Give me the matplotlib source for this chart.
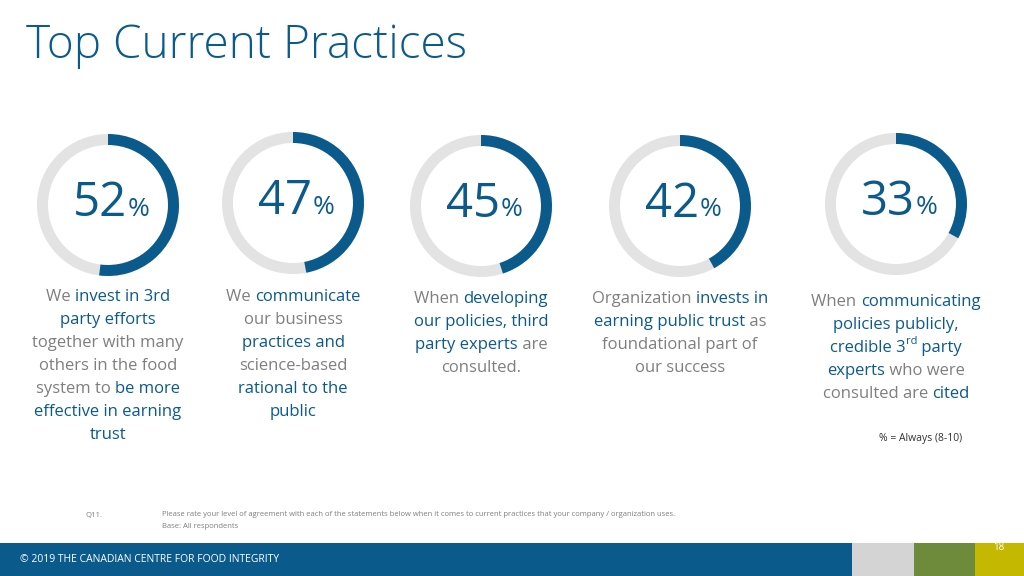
import matplotlib
matplotlib.use("Agg")
import matplotlib.pyplot as plt
from matplotlib.patches import Wedge, Rectangle

values = [52, 47, 45, 42, 33]
centers_x = [108, 293, 481, 680, 896]
centers_y = [205, 203, 206, 206, 204]
BLUE = "#0b5a8c"
GREY = "#7f7f7f"
B, G, S = "b", "g", "s"
descriptions = [
    [[("We ", G), ("invest in 3rd", B)], [("party efforts", B)], [("together with many", G)],
     [("others in the food", G)], [("system to ", G), ("be more", B)], [("effective in earning", B)], [("trust", B)]],
    [[("We ", G), ("communicate", B)], [("our business", G)], [("practices and", B)],
     [("science-based", G)], [("rational to the", B)], [("public", B)]],
    [[("When ", G), ("developing", B)], [("our policies, third", B)], [("party experts", B), (" are", G)], [("consulted.", G)]],
    [[("Organization ", G), ("invests in", B)], [("earning public trust", B), (" as", G)], [("foundational part of", G)], [("our success", G)]],
    [[("When ", G), ("communicating", B)], [("policies publicly,", B)], [("credible 3", B), ("rd", S), (" party", B)],
     [("experts", B), (" who were", G)], [("consulted are ", G), ("cited", B)]],
]
desc_top = [297, 297, 299, 299, 302]

FONT = "Open Sans"
fig = plt.figure(figsize=(10.24, 5.76), dpi=100)
ax = fig.add_axes([0, 0, 1, 1])
ax.set_xlim(0, 1024); ax.set_ylim(0, 576); ax.axis("off")
Y = lambda y: 576 - y

ax.text(26, Y(46), "Top Current Practices", fontsize=33, color=BLUE, family=FONT, va="center", fontweight="light")

for v, cx, cy in zip(values, centers_x, centers_y):
    ax.add_patch(Wedge((cx, Y(cy)), 71, 0, 360, width=11, color="#e3e3e3", lw=0))
    ax.add_patch(Wedge((cx, Y(cy)), 71, 90 - 360 * v / 100, 90, width=11, color=BLUE, lw=0))
    ax.text(cx - 8, Y(cy) + 2, str(v), fontsize=34, color=BLUE, family=FONT, ha="center", va="center")
    ax.text(cx + 20, Y(cy) - 4, "%", fontsize=19, color=BLUE, family=FONT, ha="left", va="center")

fig.canvas.draw()
r = fig.canvas.get_renderer()
def width_of(s, size):
    t = ax.text(0, 0, s, fontsize=size, family=FONT)
    w = t.get_window_extent(r).width
    t.remove()
    return w

FS = 12
for lines, cx, top in zip(descriptions, centers_x, desc_top):
    for i, segs in enumerate(lines):
        y = Y(top + i * 23)
        sizes = [8 if c == S else FS for _, c in segs]
        ws = [width_of(s, sz) for (s, _), sz in zip(segs, sizes)]
        x = cx - sum(ws) / 2
        for (s, c), sz, w in zip(segs, sizes, ws):
            col = GREY if c == G else BLUE
            ax.text(x, y + (6 if c == S else 0), s, fontsize=sz, color=col, family=FONT, va="center", ha="left")
            x += w

ax.text(921, Y(438), "% = Always (8-10)", fontsize=7.5, color="#333333", family=FONT, ha="center", va="center")
ax.text(86, Y(515), "Q11.", fontsize=5.5, color=GREY, family=FONT, va="center")
ax.text(162, Y(515), "Please rate your level of agreement with each of the statements below when it comes to current practices that your company / organization uses.",
        fontsize=5.5, color=GREY, family=FONT, va="center")
ax.text(162, Y(526), "Base: All respondents", fontsize=5.5, color=GREY, family=FONT, va="center")

ax.add_patch(Rectangle((0, 0), 852, Y(543), color="#0b5a8c", lw=0))
ax.add_patch(Rectangle((852, 0), 62, Y(543), color="#d4d4d4", lw=0))
ax.add_patch(Rectangle((914, 0), 61, Y(543), color="#6d8b3a", lw=0))
ax.add_patch(Rectangle((975, 0), 49, Y(543), color="#c5b800", lw=0))
ax.text(20, Y(560), "© 2019 THE CANADIAN CENTRE FOR FOOD INTEGRITY", fontsize=7.5, color="white", family=FONT, va="center")
ax.text(999, Y(548), "18", fontsize=7, color="white", family=FONT, ha="center", va="center")

fig.savefig("out.png", dpi=100)
